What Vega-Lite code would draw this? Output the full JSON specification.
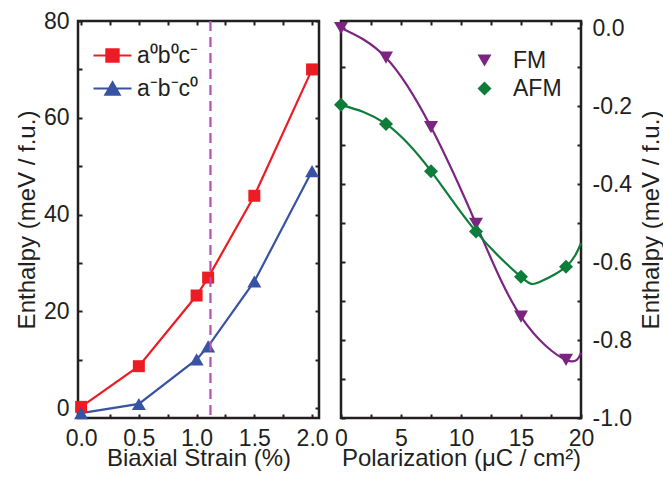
{
  "$schema": "https://vega.github.io/schema/vega-lite/v6.json",
  "padding": {"left": 14, "top": 8, "right": 0, "bottom": 4},
  "config": {
    "font": "Liberation Sans",
    "view": {"stroke": "#231f20", "strokeWidth": 2.5},
    "axis": {
      "labelFont": "Liberation Sans", "labelFontSize": 23, "labelColor": "#231f20",
      "titleFont": "Liberation Sans", "titleFontSize": 24, "titleFontWeight": "normal", "titleColor": "#231f20",
      "tickColor": "#231f20", "tickSize": 4, "tickWidth": 2, "offset": -4,
      "domain": false, "grid": false, "labelFlush": false, "labelOverlap": false, "labelBound": false,
      "labelPadding": 9, "titlePadding": 0
    },
    "legend": {"labelFont": "Liberation Sans", "labelFontSize": 23, "labelColor": "#231f20", "padding": 0}
  },
  "datasets": {
    "strain": [
      {"phase": "a⁰b⁰c⁻", "strain": 0.0, "enthalpy": 0.3},
      {"phase": "a⁰b⁰c⁻", "strain": 0.5, "enthalpy": 8.7},
      {"phase": "a⁰b⁰c⁻", "strain": 1.0, "enthalpy": 23.3},
      {"phase": "a⁰b⁰c⁻", "strain": 1.1, "enthalpy": 27.0},
      {"phase": "a⁰b⁰c⁻", "strain": 1.5, "enthalpy": 43.9},
      {"phase": "a⁰b⁰c⁻", "strain": 2.0, "enthalpy": 70.0},
      {"phase": "a⁻b⁻c⁰", "strain": 0.0, "enthalpy": -1.0},
      {"phase": "a⁻b⁻c⁰", "strain": 0.5, "enthalpy": 0.9},
      {"phase": "a⁻b⁻c⁰", "strain": 1.0, "enthalpy": 10.1},
      {"phase": "a⁻b⁻c⁰", "strain": 1.1, "enthalpy": 12.8},
      {"phase": "a⁻b⁻c⁰", "strain": 1.5, "enthalpy": 26.2},
      {"phase": "a⁻b⁻c⁰", "strain": 2.0, "enthalpy": 49.0}
    ],
    "transition": [{"strain": 1.12}],
    "polarization": [
      {"state": "FM", "P": 0.0, "H": 0.0},
      {"state": "FM", "P": 3.75, "H": -0.076},
      {"state": "FM", "P": 7.5, "H": -0.254},
      {"state": "FM", "P": 11.25, "H": -0.502},
      {"state": "FM", "P": 15.0, "H": -0.740},
      {"state": "FM", "P": 18.75, "H": -0.851},
      {"state": "AFM", "P": 0.0, "H": -0.197},
      {"state": "AFM", "P": 3.75, "H": -0.246},
      {"state": "AFM", "P": 7.5, "H": -0.367},
      {"state": "AFM", "P": 11.25, "H": -0.522},
      {"state": "AFM", "P": 15.0, "H": -0.638},
      {"state": "AFM", "P": 18.75, "H": -0.612}
    ],
    "polarization_fit": [
      {"state": "FM", "P": 0.0, "H": 0.0},
      {"state": "FM", "P": 3.75, "H": -0.076},
      {"state": "FM", "P": 7.5, "H": -0.254},
      {"state": "FM", "P": 11.25, "H": -0.502},
      {"state": "FM", "P": 15.0, "H": -0.740},
      {"state": "FM", "P": 18.75, "H": -0.851},
      {"state": "FM", "P": 20.0, "H": -0.833},
      {"state": "AFM", "P": 0.0, "H": -0.197},
      {"state": "AFM", "P": 3.75, "H": -0.246},
      {"state": "AFM", "P": 7.5, "H": -0.367},
      {"state": "AFM", "P": 11.25, "H": -0.522},
      {"state": "AFM", "P": 15.0, "H": -0.638},
      {"state": "AFM", "P": 16.5, "H": -0.652},
      {"state": "AFM", "P": 18.75, "H": -0.612},
      {"state": "AFM", "P": 20.0, "H": -0.552}
    ]
  },
  "bounds": "flush",
  "spacing": 22,
  "resolve": {"scale": {"color": "independent", "shape": "independent"}, "legend": {"color": "independent", "shape": "independent"}},
  "hconcat": [
    {
      "width": 241,
      "height": 397,
      "resolve": {"axis": {"x": "independent", "y": "independent"}},
      "layer": [
        {
          "data": {"name": "strain"},
          "mark": {"type": "line", "strokeWidth": 2.2},
          "encoding": {
            "x": {"field": "strain", "type": "quantitative",
                  "scale": {"domain": [-0.027, 2.06], "nice": false, "zero": false},
                  "axis": {"orient": "bottom", "title": "Biaxial Strain (%)", "titlePadding": -4,
                           "values": [0, 0.25, 0.5, 0.75, 1, 1.25, 1.5, 1.75, 2],
                           "labelExpr": "(datum.value * 2) % 1 == 0 ? format(datum.value, '.1f') : ''"}},
            "y": {"field": "enthalpy", "type": "quantitative",
                  "scale": {"domain": [-2, 80], "nice": false, "zero": false},
                  "axis": {"orient": "left", "title": "Enthalpy (meV / f.u.)", "titlePadding": 4,
                           "values": [0, 10, 20, 30, 40, 50, 60, 70, 80],
                           "labelExpr": "datum.value % 20 == 0 ? format(datum.value, 'd') : ''"}},
            "color": {"field": "phase", "type": "nominal",
                      "scale": {"domain": ["a⁰b⁰c⁻", "a⁻b⁻c⁰"], "range": ["#ed1c24", "#3953a4"]},
                      "legend": {"title": null, "orient": "none", "legendX": 14, "legendY": 14,
                                 "symbolSize": 1444, "labelOffset": 4, "rowPadding": 0,
                                 "encode": {"symbols": {"update": {
                                   "shape": {"signal": "datum.value === 'a⁰b⁰c⁻' ? 'M-1,0H1M-0.32,-0.32H0.32V0.32H-0.32Z' : 'M-1,0H1M0,-0.32L0.37,0.32L-0.37,0.32Z'"},
                                   "fill": {"signal": "datum.value === 'a⁰b⁰c⁻' ? '#ed1c24' : '#3953a4'"},
                                   "stroke": {"signal": "datum.value === 'a⁰b⁰c⁻' ? '#ed1c24' : '#3953a4'"},
                                   "strokeWidth": {"value": 2.2},
                                   "opacity": {"value": 1},
                                   "fillOpacity": {"value": 1}
                                 }}}}}
          }
        },
        {
          "data": {"name": "strain"},
          "transform": [{"filter": "datum.phase === 'a⁰b⁰c⁻'"}],
          "mark": {"type": "point", "shape": "square", "filled": true, "opacity": 1, "color": "#ed1c24", "size": 144},
          "encoding": {
            "x": {"field": "strain", "type": "quantitative",
                  "axis": {"orient": "top", "title": null, "labels": false,
                           "values": [0, 0.25, 0.5, 0.75, 1, 1.25, 1.5, 1.75, 2]}},
            "y": {"field": "enthalpy", "type": "quantitative",
                  "axis": {"orient": "right", "title": null, "labels": false,
                           "values": [0, 10, 20, 30, 40, 50, 60, 70, 80]}}
          }
        },
        {
          "data": {"name": "strain"},
          "transform": [{"filter": "datum.phase === 'a⁻b⁻c⁰'"}],
          "mark": {"type": "point", "shape": "triangle-up", "filled": true, "opacity": 1, "color": "#3953a4", "size": 196},
          "encoding": {
            "x": {"field": "strain", "type": "quantitative", "axis": null},
            "y": {"field": "enthalpy", "type": "quantitative", "axis": null}
          }
        },
        {
          "data": {"name": "transition"},
          "mark": {"type": "rule", "color": "#b44fb4", "strokeWidth": 2.2, "strokeDash": [10, 6]},
          "encoding": {
            "x": {"field": "strain", "type": "quantitative", "axis": null}
          }
        }
      ]
    },
    {
      "width": 240,
      "height": 397,
      "resolve": {"axis": {"x": "independent", "y": "independent"}},
      "layer": [
        {
          "data": {"name": "polarization_fit"},
          "mark": {"type": "line", "strokeWidth": 2.2, "interpolate": "natural"},
          "encoding": {
            "x": {"field": "P", "type": "quantitative",
                  "scale": {"domain": [0, 20], "nice": false, "zero": false},
                  "axis": {"orient": "bottom", "title": "Polarization (μC / cm²)", "titlePadding": -4,
                           "values": [0, 2.5, 5, 7.5, 10, 12.5, 15, 17.5, 20],
                           "labelExpr": "datum.value % 5 == 0 ? format(datum.value, 'd') : ''"}},
            "y": {"field": "H", "type": "quantitative",
                  "scale": {"domain": [-1.0, 0.018], "nice": false, "zero": false},
                  "axis": {"orient": "right", "title": "Enthalpy (meV / f.u.)", "titleAngle": 270, "titleBaseline": "top", "titlePadding": 8,
                           "labelPadding": 11,
                           "values": [-1, -0.9, -0.8, -0.7, -0.6, -0.5, -0.4, -0.3, -0.2, -0.1, 0],
                           "labelExpr": "round(datum.value * 10) % 2 == 0 ? (datum.value < -0.01 ? '-' : '') + format(abs(datum.value), '.1f') : ''"}},
            "color": {"field": "state", "type": "nominal",
                      "scale": {"domain": ["FM", "AFM"], "range": ["#7b2481", "#0e7d3a"]},
                      "legend": {"title": null, "orient": "none", "legendX": 132, "legendY": 28,
                                 "symbolSize": 196, "labelOffset": 17, "rowPadding": 4,
                                 "encode": {"symbols": {"update": {
                                   "shape": {"signal": "datum.value === 'FM' ? 'triangle-down' : 'diamond'"},
                                   "fill": {"signal": "datum.value === 'FM' ? '#7b2481' : '#0e7d3a'"},
                                   "strokeWidth": {"value": 0},
                                   "opacity": {"value": 1}
                                 }}}}}
          }
        },
        {
          "data": {"name": "polarization"},
          "mark": {"type": "point", "filled": true, "opacity": 1},
          "encoding": {
            "x": {"field": "P", "type": "quantitative",
                  "axis": {"orient": "top", "title": null, "labels": false,
                           "values": [0, 2.5, 5, 7.5, 10, 12.5, 15, 17.5, 20]}},
            "y": {"field": "H", "type": "quantitative",
                  "axis": {"orient": "left", "title": null, "labels": false,
                           "values": [-1, -0.9, -0.8, -0.7, -0.6, -0.5, -0.4, -0.3, -0.2, -0.1, 0]}},
            "color": {"field": "state", "type": "nominal",
                      "legend": {"title": null, "orient": "none", "legendX": 132, "legendY": 28,
                                 "symbolSize": 196, "labelOffset": 17, "rowPadding": 4,
                                 "encode": {"symbols": {"update": {
                                   "shape": {"signal": "datum.value === 'FM' ? 'triangle-down' : 'diamond'"},
                                   "fill": {"signal": "datum.value === 'FM' ? '#7b2481' : '#0e7d3a'"},
                                   "strokeWidth": {"value": 0},
                                   "opacity": {"value": 1}
                                 }}}}},
            "shape": {"field": "state", "type": "nominal",
                      "scale": {"domain": ["FM", "AFM"], "range": ["triangle-down", "diamond"]},
                      "legend": null},
            "size": {"value": 196}
          }
        }
      ]
    }
  ]
}
